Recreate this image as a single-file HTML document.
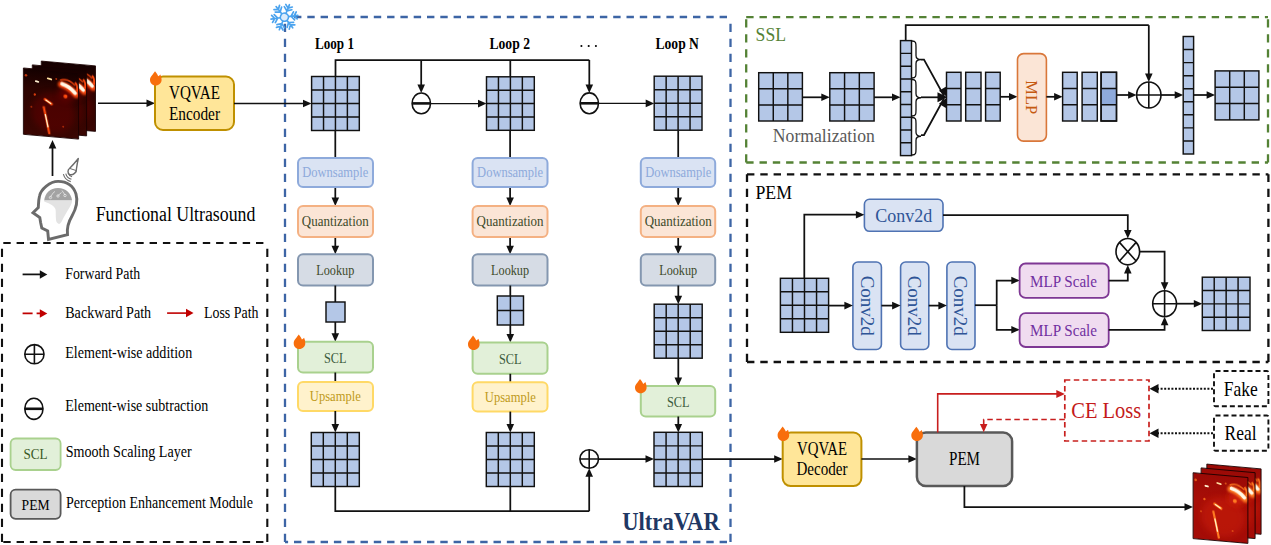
<!DOCTYPE html>
<html><head><meta charset="utf-8"><style>
html,body{margin:0;padding:0;background:#fff;width:1271px;height:545px;overflow:hidden}
svg{display:block}
text{font-family:"Liberation Serif",serif}
</style></head><body>
<svg width="1271" height="545" viewBox="0 0 1271 545">
<rect width="1271" height="545" fill="#fff"/>
<defs><filter id="blur1" x="-50%" y="-50%" width="200%" height="200%"><feGaussianBlur stdDeviation="1.2"/></filter><filter id="blur2" x="-50%" y="-50%" width="200%" height="200%"><feGaussianBlur stdDeviation="3"/></filter><filter id="blur05" x="-50%" y="-50%" width="200%" height="200%"><feGaussianBlur stdDeviation="0.5"/></filter><linearGradient id="dbg" x1="0" y1="0" x2="0" y2="1"><stop offset="0" stop-color="#140000"/><stop offset="0.3" stop-color="#2c0401"/><stop offset="1" stop-color="#3a0602"/></linearGradient><linearGradient id="rbg" x1="0" y1="0" x2="0" y2="1"><stop offset="0" stop-color="#9a0a06"/><stop offset="0.4" stop-color="#a80e07"/><stop offset="1" stop-color="#a40c07"/></linearGradient><clipPath id="lc"><rect x="0" y="0" width="55.5" height="66"/></clipPath></defs>
<g transform="matrix(0.9766,0.0865,0,0.9924,41.3,61.1)"><g clip-path="url(#lc)"><rect x="0" y="0" width="55.5" height="66" fill="url(#dbg)"/><ellipse cx="30" cy="42" rx="22" ry="20" fill="#6a0600" opacity="0.45" filter="url(#blur2)"/><ellipse cx="44" cy="22" rx="9" ry="7" fill="#6a0600" opacity="0.9" filter="url(#blur2)"/><path d="M37 9 Q45 6 52 13" stroke="#ff4a10" stroke-width="1.6" fill="none" opacity="0.8" filter="url(#blur05)"/><path d="M38 13 Q46 14.5 53 22" stroke="#ff4a10" stroke-width="6.5" fill="none" stroke-linecap="round" filter="url(#blur1)"/><path d="M39 12.5 Q46 14 52 20.5" stroke="#fff8e6" stroke-width="3.8" fill="none" stroke-linecap="round" filter="url(#blur05)"/><path d="M52 10 Q55 13 54 19" stroke="#ff4a10" stroke-width="2" fill="none" filter="url(#blur05)"/></g><rect x="0" y="0" width="55.5" height="66" fill="none" stroke="#1a0000" stroke-width="0.9"/></g>
<g transform="matrix(0.9784,0.0865,0,1.0030,32.3,64.9)"><g clip-path="url(#lc)"><rect x="0" y="0" width="55.5" height="66" fill="url(#dbg)"/><ellipse cx="30" cy="42" rx="22" ry="20" fill="#6a0600" opacity="0.45" filter="url(#blur2)"/><ellipse cx="44" cy="22" rx="9" ry="7" fill="#6a0600" opacity="0.9" filter="url(#blur2)"/><path d="M37 9 Q45 6 52 13" stroke="#ff4a10" stroke-width="1.6" fill="none" opacity="0.8" filter="url(#blur05)"/><path d="M38 13 Q46 14.5 53 22" stroke="#ff4a10" stroke-width="6.5" fill="none" stroke-linecap="round" filter="url(#blur1)"/><path d="M39 12.5 Q46 14 52 20.5" stroke="#fff8e6" stroke-width="3.8" fill="none" stroke-linecap="round" filter="url(#blur05)"/><path d="M52 10 Q55 13 54 19" stroke="#ff4a10" stroke-width="2" fill="none" filter="url(#blur05)"/></g><rect x="0" y="0" width="55.5" height="66" fill="none" stroke="#1a0000" stroke-width="0.9"/></g>
<g transform="matrix(0.9946,0.0865,0,1.0045,23.4,68.0)"><g clip-path="url(#lc)"><rect x="0" y="0" width="55.5" height="66" fill="url(#dbg)"/><ellipse cx="30" cy="42" rx="22" ry="20" fill="#6a0600" opacity="0.45" filter="url(#blur2)"/><ellipse cx="44" cy="22" rx="9" ry="7" fill="#6a0600" opacity="0.9" filter="url(#blur2)"/><path d="M37 9 Q45 6 52 13" stroke="#ff4a10" stroke-width="1.6" fill="none" opacity="0.8" filter="url(#blur05)"/><path d="M38 13 Q46 14.5 53 22" stroke="#ff4a10" stroke-width="6.5" fill="none" stroke-linecap="round" filter="url(#blur1)"/><path d="M39 12.5 Q46 14 52 20.5" stroke="#fff8e6" stroke-width="3.8" fill="none" stroke-linecap="round" filter="url(#blur05)"/><path d="M52 10 Q55 13 54 19" stroke="#ff4a10" stroke-width="2" fill="none" filter="url(#blur05)"/><circle cx="42.3" cy="24.7" r="2" fill="#ff4a10" filter="url(#blur05)"/><path d="M20.3 36.4 Q23.5 50 26.2 63.6" stroke="#ff4a10" stroke-width="2.2" fill="none" filter="url(#blur05)"/><path d="M22 44 Q23.5 51 24.8 57" stroke="#fff2c8" stroke-width="1.3" fill="none"/><path d="M21.7 29.3 L28.4 33.5" stroke="#ff4a10" stroke-width="2.6" fill="none" stroke-linecap="round" filter="url(#blur05)"/><path d="M22.5 30 L27.5 33" stroke="#fff0c0" stroke-width="1.2" fill="none" stroke-linecap="round"/><path d="M24.5 8.2 L28 9" stroke="#ffe0a0" stroke-width="1.8" fill="none" stroke-linecap="round"/><path d="M12.5 12 L15 12.5" stroke="#fff0d0" stroke-width="1.8" fill="none" stroke-linecap="round"/><circle cx="11.5" cy="25.4" r="1.2" fill="#ff4a10" opacity="0.8"/><circle cx="2.6" cy="7" r="1.3" fill="#ff4a10" opacity="0.7"/><circle cx="33" cy="8" r="1" fill="#ff4a10" opacity="0.6"/><circle cx="8" cy="38" r="1" fill="#ff4a10" opacity="0.5"/><circle cx="40" cy="55" r="1" fill="#ff4a10" opacity="0.5"/></g><rect x="0" y="0" width="55.5" height="66" fill="none" stroke="#1a0000" stroke-width="0.9"/></g>
<path d="M98 103.2 L147.5 103.2" fill="none" stroke="#111" stroke-width="1.35"/>
<polygon points="155,103.2 146.5,99.4 146.5,107.0" fill="#111"/>
<path d="M58 188 C50 188 45 193 44.2 200.6 L72.1 200.6 C71 193 66 188 58 188 Z" fill="#a3a3a3"/>
<path d="M44.2 200.6 L72.1 200.6 C72 203 71 205 69.5 207.6 C67 212 65 215 63.4 218 C62 221 60.5 224 59 224.1 C57 223.5 56 221.5 56 219.8 C55.5 215 56 212 55.5 209.3 C54 206 51 204 44.2 201.5 Z" fill="#e3e3e3"/>
<path d="M50 197.5 L53.5 192.5 L55 191.5 M57.5 196 L61.5 192.5 M62 190.5 L65 195" stroke="#e8e8e8" stroke-width="0.8" fill="none"/>
<circle cx="50.5" cy="197.5" r="1.2" fill="none" stroke="#eee" stroke-width="0.7"/><circle cx="58" cy="196" r="1.2" fill="none" stroke="#eee" stroke-width="0.7"/><circle cx="65" cy="195.5" r="1.2" fill="none" stroke="#eee" stroke-width="0.7"/>
<path d="M48.5 239.5 L47.7 231 L41.8 228 L40.6 222.5 L39.8 217.5 L33 212.8 L38.3 207.6 C38.6 203 38.5 200 39.5 196 C41 189 50 181.4 58.1 181.4 C66 181.4 73 185 76 194 C78 201 76 209 72 216 C69 221 66.5 226 67.5 234.6 Z" fill="none" stroke="#6b6b6b" stroke-width="2.9" stroke-linejoin="miter"/>
<path d="M72.08 176.81 A5.5 5.5 0 0 1 68.19 172.92 M71.43 179.23 A8 8 0 0 1 65.77 173.57 M70.78 181.64 A10.5 10.5 0 0 1 63.36 174.22 " stroke="#6b6b6b" stroke-width="1.1" fill="none"/>
<path d="M78.3 158.5 C77.5 162 77 165 76.5 168.5 C77 172.5 73 175.5 69.5 174.5 C67.5 173 67.5 170 69.5 168.5 C72.5 165.5 75.5 162 78.3 158.5 Z" fill="#fff" stroke="#6b6b6b" stroke-width="1.4" stroke-linejoin="round"/>
<path d="M70 168.5 L76 170.5" stroke="#6b6b6b" stroke-width="1"/>
<path d="M52.5 176 L52.5 147.5" fill="none" stroke="#111" stroke-width="1.75"/>
<polygon points="52.5,140 48.7,148.5 56.3,148.5" fill="#111"/>
<text x="95.7" y="221" font-size="20" fill="#000" text-anchor="start" font-weight="normal" textLength="159.7" lengthAdjust="spacingAndGlyphs" >Functional Ultrasound</text>
<rect x="155" y="76.5" width="79.00" height="53.50" rx="8" fill="#ffe699" stroke="#bf9000" stroke-width="2"/>
<text x="194.5" y="98.9" font-size="18.8" fill="#000" text-anchor="middle" font-weight="normal" textLength="51" lengthAdjust="spacingAndGlyphs" >VQVAE</text>
<text x="194.5" y="119.5" font-size="18.8" fill="#000" text-anchor="middle" font-weight="normal" textLength="51" lengthAdjust="spacingAndGlyphs" >Encoder</text>
<path transform="translate(155.6,85.6) scale(1.0)" d="M0 0 C-3.4 0 -5.6 -2.6 -5.6 -5.8 C-5.6 -9 -2.2 -11.5 -0.6 -14.4 C0.8 -12.6 2 -11 2.6 -9.4 C3.4 -9.8 4.2 -10.6 4.8 -11.2 C5.6 -9.5 6 -7.6 6 -5.8 C6 -2.6 3.4 0 0 0 Z" fill="#f86e0c"/>
<path d="M285 17H730.5M285 542H730.5" fill="none" stroke="#3d65a5" stroke-width="2.3" stroke-dasharray="7.4 5.9" stroke-dashoffset="4.3"/>
<path d="M285 542V17M730.5 542V17" fill="none" stroke="#3d65a5" stroke-width="2.3" stroke-dasharray="8.3 6.7" stroke-dashoffset="0"/>
<path d="M234 103.5 L304.0 103.5" fill="none" stroke="#111" stroke-width="1.35"/>
<polygon points="311.5,103.5 303.0,99.7 303.0,107.3" fill="#111"/>
<path d="M335.5 76.5 L335.5 60 L589.3 60" fill="none" stroke="#111" stroke-width="1.75"/>
<path d="M510.3 60 L510.3 77" fill="none" stroke="#111" stroke-width="1.75"/>
<path d="M421.2 60 L421.2 85.5" fill="none" stroke="#111" stroke-width="1.75"/>
<polygon points="421.2,93 417.4,84.5 425.0,84.5" fill="#111"/>
<path d="M589.3 60 L589.3 85.5" fill="none" stroke="#111" stroke-width="1.75"/>
<polygon points="589.3,93 585.5,84.5 593.0999999999999,84.5" fill="#111"/>
<ellipse cx="421.3" cy="103.4" rx="9.2" ry="10.4" fill="#fff" stroke="#111" stroke-width="1.6"/>
<path d="M412.1 103.4H430.5" stroke="#111" stroke-width="2.6"/>
<ellipse cx="589.3" cy="103.3" rx="9.2" ry="10.4" fill="#fff" stroke="#111" stroke-width="1.6"/>
<path d="M580.0999999999999 103.3H598.5" stroke="#111" stroke-width="2.6"/>
<path d="M430.2 103.6 L479.0 103.6" fill="none" stroke="#111" stroke-width="1.35"/>
<polygon points="486.5,103.6 478.0,99.8 478.0,107.39999999999999" fill="#111"/>
<path d="M598.3 103.4 L646.7 103.4" fill="none" stroke="#111" stroke-width="1.35"/>
<polygon points="654.2,103.4 645.7,99.60000000000001 645.7,107.2" fill="#111"/>
<text x="334.5" y="48.5" font-size="15.8" fill="#000" text-anchor="middle" font-weight="bold" textLength="39" lengthAdjust="spacingAndGlyphs" >Loop 1</text>
<text x="509.7" y="48.6" font-size="15.8" fill="#000" text-anchor="middle" font-weight="bold" textLength="40.5" lengthAdjust="spacingAndGlyphs" >Loop 2</text>
<text x="677.2" y="48.6" font-size="15.8" fill="#000" text-anchor="middle" font-weight="bold" textLength="43.5" lengthAdjust="spacingAndGlyphs" >Loop N</text>
<circle cx="581.4" cy="46" r="1.05" fill="#000"/><circle cx="588.7" cy="46" r="1.05" fill="#000"/><circle cx="595.9" cy="46" r="1.05" fill="#000"/>
<path d="M335.3 130.5 L335.3 158" fill="none" stroke="#111" stroke-width="1.75"/>
<path d="M335.3 187 L335.3 198.5" fill="none" stroke="#111" stroke-width="1.75"/>
<polygon points="335.3,206 331.5,197.5 339.1,197.5" fill="#111"/>
<path d="M335.3 237 L335.3 246.8" fill="none" stroke="#111" stroke-width="1.75"/>
<polygon points="335.3,254.3 331.5,245.8 339.1,245.8" fill="#111"/>
<rect x="298" y="158" width="75.00" height="29.00" rx="5" fill="#dae3f3" stroke="#8eaadb" stroke-width="2"/>
<text x="335.3" y="176.9" font-size="14.3" fill="#8eaadb" text-anchor="middle" font-weight="normal" textLength="66" lengthAdjust="spacingAndGlyphs" >Downsample</text>
<rect x="298" y="206" width="75.00" height="31.00" rx="5" fill="#fbe5d6" stroke="#f4b183" stroke-width="2"/>
<text x="335.3" y="226" font-size="14.3" fill="#3d4a2a" text-anchor="middle" font-weight="normal" textLength="67" lengthAdjust="spacingAndGlyphs" >Quantization</text>
<rect x="298" y="254.3" width="75.00" height="31.20" rx="5" fill="#d6dce5" stroke="#8497b0" stroke-width="2"/>
<text x="335.3" y="275" font-size="14.3" fill="#3d4a2a" text-anchor="middle" font-weight="normal" textLength="38" lengthAdjust="spacingAndGlyphs" >Lookup</text>
<path d="M510.1 130.5 L510.1 158" fill="none" stroke="#111" stroke-width="1.75"/>
<path d="M510.1 187 L510.1 198.5" fill="none" stroke="#111" stroke-width="1.75"/>
<polygon points="510.1,206 506.3,197.5 513.9,197.5" fill="#111"/>
<path d="M510.1 237 L510.1 246.8" fill="none" stroke="#111" stroke-width="1.75"/>
<polygon points="510.1,254.3 506.3,245.8 513.9,245.8" fill="#111"/>
<rect x="472.6" y="158" width="74.90" height="29.00" rx="5" fill="#dae3f3" stroke="#8eaadb" stroke-width="2"/>
<text x="510.1" y="176.9" font-size="14.3" fill="#8eaadb" text-anchor="middle" font-weight="normal" textLength="66" lengthAdjust="spacingAndGlyphs" >Downsample</text>
<rect x="472.6" y="206" width="74.90" height="31.00" rx="5" fill="#fbe5d6" stroke="#f4b183" stroke-width="2"/>
<text x="510.1" y="226" font-size="14.3" fill="#3d4a2a" text-anchor="middle" font-weight="normal" textLength="67" lengthAdjust="spacingAndGlyphs" >Quantization</text>
<rect x="472.6" y="254.3" width="74.90" height="31.20" rx="5" fill="#d6dce5" stroke="#8497b0" stroke-width="2"/>
<text x="510.1" y="275" font-size="14.3" fill="#3d4a2a" text-anchor="middle" font-weight="normal" textLength="38" lengthAdjust="spacingAndGlyphs" >Lookup</text>
<path d="M678.2 130.5 L678.2 158" fill="none" stroke="#111" stroke-width="1.75"/>
<path d="M678.2 187 L678.2 198.5" fill="none" stroke="#111" stroke-width="1.75"/>
<polygon points="678.2,206 674.4000000000001,197.5 682.0,197.5" fill="#111"/>
<path d="M678.2 237 L678.2 246.8" fill="none" stroke="#111" stroke-width="1.75"/>
<polygon points="678.2,254.3 674.4000000000001,245.8 682.0,245.8" fill="#111"/>
<rect x="640.8" y="158" width="74.40" height="29.00" rx="5" fill="#dae3f3" stroke="#8eaadb" stroke-width="2"/>
<text x="678.2" y="176.9" font-size="14.3" fill="#8eaadb" text-anchor="middle" font-weight="normal" textLength="66" lengthAdjust="spacingAndGlyphs" >Downsample</text>
<rect x="640.8" y="206" width="74.40" height="31.00" rx="5" fill="#fbe5d6" stroke="#f4b183" stroke-width="2"/>
<text x="678.2" y="226" font-size="14.3" fill="#3d4a2a" text-anchor="middle" font-weight="normal" textLength="67" lengthAdjust="spacingAndGlyphs" >Quantization</text>
<rect x="640.8" y="254.3" width="74.40" height="31.20" rx="5" fill="#d6dce5" stroke="#8497b0" stroke-width="2"/>
<text x="678.2" y="275" font-size="14.3" fill="#3d4a2a" text-anchor="middle" font-weight="normal" textLength="38" lengthAdjust="spacingAndGlyphs" >Lookup</text>
<path d="M335.3 285.5 L335.3 302" fill="none" stroke="#111" stroke-width="1.75"/>
<rect x="326" y="302" width="19" height="20" fill="#b4c7e7" stroke="#111" stroke-width="1.45"/>
<path d="M335.3 322 L335.3 334.2" fill="none" stroke="#111" stroke-width="1.75"/>
<polygon points="335.3,341.7 331.5,333.2 339.1,333.2" fill="#111"/>
<rect x="298" y="341.7" width="75.00" height="30.80" rx="5" fill="#e2f0d9" stroke="#a9d18e" stroke-width="2"/>
<text x="335.3" y="363" font-size="14.3" fill="#3a5a3a" text-anchor="middle" font-weight="normal" textLength="22.5" lengthAdjust="spacingAndGlyphs" >SCL</text>
<path transform="translate(299.3,349) scale(1.0)" d="M0 0 C-3.4 0 -5.6 -2.6 -5.6 -5.8 C-5.6 -9 -2.2 -11.5 -0.6 -14.4 C0.8 -12.6 2 -11 2.6 -9.4 C3.4 -9.8 4.2 -10.6 4.8 -11.2 C5.6 -9.5 6 -7.6 6 -5.8 C6 -2.6 3.4 0 0 0 Z" fill="#f86e0c"/>
<path d="M335.3 372.5 L335.3 382" fill="none" stroke="#111" stroke-width="1.75"/>
<rect x="298" y="382" width="75.00" height="29.00" rx="5" fill="#fff2cc" stroke="#ffd966" stroke-width="2"/>
<text x="335.3" y="401" font-size="14.3" fill="#c09a20" text-anchor="middle" font-weight="normal" textLength="51" lengthAdjust="spacingAndGlyphs" >Upsample</text>
<path d="M335.3 411 L335.3 425.0" fill="none" stroke="#111" stroke-width="1.75"/>
<polygon points="335.3,432.5 331.5,424.0 339.1,424.0" fill="#111"/>
<path d="M510.3 285.5 L510.3 296" fill="none" stroke="#111" stroke-width="1.75"/>
<rect x="497.3" y="296" width="26.2" height="29" fill="#b4c7e7" stroke="#111" stroke-width="1.45"/><path d="M510.40 296V325M497.3 310.50H523.5" stroke="#111" stroke-width="1.45" fill="none"/>
<path d="M510.3 325 L510.3 335.0" fill="none" stroke="#111" stroke-width="1.75"/>
<polygon points="510.3,342.5 506.5,334.0 514.1,334.0" fill="#111"/>
<rect x="472.6" y="342.5" width="74.90" height="31.30" rx="5" fill="#e2f0d9" stroke="#a9d18e" stroke-width="2"/>
<text x="510.3" y="364" font-size="14.3" fill="#3a5a3a" text-anchor="middle" font-weight="normal" textLength="22.5" lengthAdjust="spacingAndGlyphs" >SCL</text>
<path transform="translate(473.6,350) scale(1.0)" d="M0 0 C-3.4 0 -5.6 -2.6 -5.6 -5.8 C-5.6 -9 -2.2 -11.5 -0.6 -14.4 C0.8 -12.6 2 -11 2.6 -9.4 C3.4 -9.8 4.2 -10.6 4.8 -11.2 C5.6 -9.5 6 -7.6 6 -5.8 C6 -2.6 3.4 0 0 0 Z" fill="#f86e0c"/>
<path d="M510.3 373.8 L510.3 382.3" fill="none" stroke="#111" stroke-width="1.75"/>
<rect x="472.6" y="382.3" width="74.90" height="29.30" rx="5" fill="#fff2cc" stroke="#ffd966" stroke-width="2"/>
<text x="510.3" y="401.5" font-size="14.3" fill="#c09a20" text-anchor="middle" font-weight="normal" textLength="51" lengthAdjust="spacingAndGlyphs" >Upsample</text>
<path d="M510.3 411.6 L510.3 425.0" fill="none" stroke="#111" stroke-width="1.75"/>
<polygon points="510.3,432.5 506.5,424.0 514.1,424.0" fill="#111"/>
<path d="M678.3 285.5 L678.3 296.7" fill="none" stroke="#111" stroke-width="1.75"/>
<polygon points="678.3,304.2 674.5,295.7 682.0999999999999,295.7" fill="#111"/>
<rect x="654.2" y="304.2" width="48" height="54" fill="#b4c7e7" stroke="#111" stroke-width="1.45"/><path d="M666.20 304.2V358.2M678.20 304.2V358.2M690.20 304.2V358.2M654.2 317.70H702.2M654.2 331.20H702.2M654.2 344.70H702.2" stroke="#111" stroke-width="1.45" fill="none"/>
<path d="M678.3 358.2 L678.3 378.5" fill="none" stroke="#111" stroke-width="1.75"/>
<polygon points="678.3,386 674.5,377.5 682.0999999999999,377.5" fill="#111"/>
<rect x="640.8" y="386" width="74.40" height="30.50" rx="5" fill="#e2f0d9" stroke="#a9d18e" stroke-width="2"/>
<text x="678.3" y="407" font-size="14.3" fill="#3a5a3a" text-anchor="middle" font-weight="normal" textLength="22.5" lengthAdjust="spacingAndGlyphs" >SCL</text>
<path transform="translate(640.6,393.3) scale(1.0)" d="M0 0 C-3.4 0 -5.6 -2.6 -5.6 -5.8 C-5.6 -9 -2.2 -11.5 -0.6 -14.4 C0.8 -12.6 2 -11 2.6 -9.4 C3.4 -9.8 4.2 -10.6 4.8 -11.2 C5.6 -9.5 6 -7.6 6 -5.8 C6 -2.6 3.4 0 0 0 Z" fill="#f86e0c"/>
<path d="M678.3 416.5 L678.3 425.0" fill="none" stroke="#111" stroke-width="1.75"/>
<polygon points="678.3,432.5 674.5,424.0 682.0999999999999,424.0" fill="#111"/>
<path d="M335.3 486.5 L335.3 511.2 L589.2 511.2" fill="none" stroke="#111" stroke-width="1.75"/>
<path d="M510.3 486.5 L510.3 511.2" fill="none" stroke="#111" stroke-width="1.75"/>
<path d="M589.2 511.2 L589.2 475.8" fill="none" stroke="#111" stroke-width="1.75"/>
<polygon points="589.2,468.3 585.4000000000001,476.8 593.0,476.8" fill="#111"/>
<ellipse cx="589.2" cy="459" rx="9.3" ry="9.3" fill="#fff" stroke="#111" stroke-width="1.6"/>
<path d="M579.9000000000001 459H598.5M589.2 449.7V468.3" stroke="#111" stroke-width="1.6"/>
<path d="M598.5 459 L646.5 459" fill="none" stroke="#111" stroke-width="1.75"/>
<polygon points="654,459 645.5,455.2 645.5,462.8" fill="#111"/>
<path d="M702.3 459 L775.2 459" fill="none" stroke="#111" stroke-width="1.75"/>
<polygon points="782.7,459 774.2,455.2 774.2,462.8" fill="#111"/>
<rect x="311.6" y="76.5" width="47.7" height="54" fill="#b4c7e7" stroke="#111" stroke-width="1.45"/><path d="M323.53 76.5V130.5M335.45 76.5V130.5M347.38 76.5V130.5M311.6 90.00H359.3M311.6 103.50H359.3M311.6 117.00H359.3" stroke="#111" stroke-width="1.45" fill="none"/>
<rect x="486.5" y="76.8" width="47.8" height="53.5" fill="#b4c7e7" stroke="#111" stroke-width="1.45"/><path d="M498.45 76.8V130.3M510.40 76.8V130.3M522.35 76.8V130.3M486.5 90.17H534.3M486.5 103.55H534.3M486.5 116.92H534.3" stroke="#111" stroke-width="1.45" fill="none"/>
<rect x="654.2" y="76.2" width="47.8" height="54" fill="#b4c7e7" stroke="#111" stroke-width="1.45"/><path d="M666.15 76.2V130.2M678.10 76.2V130.2M690.05 76.2V130.2M654.2 89.70H702.0M654.2 103.20H702.0M654.2 116.70H702.0" stroke="#111" stroke-width="1.45" fill="none"/>
<rect x="311.3" y="432.5" width="48" height="54" fill="#b4c7e7" stroke="#111" stroke-width="1.45"/><path d="M323.30 432.5V486.5M335.30 432.5V486.5M347.30 432.5V486.5M311.3 446.00H359.3M311.3 459.50H359.3M311.3 473.00H359.3" stroke="#111" stroke-width="1.45" fill="none"/>
<rect x="486.3" y="432.5" width="48" height="54" fill="#b4c7e7" stroke="#111" stroke-width="1.45"/><path d="M498.30 432.5V486.5M510.30 432.5V486.5M522.30 432.5V486.5M486.3 446.00H534.3M486.3 459.50H534.3M486.3 473.00H534.3" stroke="#111" stroke-width="1.45" fill="none"/>
<rect x="654" y="432.3" width="48.3" height="54.2" fill="#b4c7e7" stroke="#111" stroke-width="1.45"/><path d="M666.08 432.3V486.5M678.15 432.3V486.5M690.23 432.3V486.5M654 445.85H702.3M654 459.40H702.3M654 472.95H702.3" stroke="#111" stroke-width="1.45" fill="none"/>
<g transform="translate(284.4,17.2) rotate(22)" stroke="#4ba3ee" stroke-width="1.7" stroke-linecap="round" fill="none"><g transform="rotate(0)"><path d="M0 -4.05V-13.5M0 -9.719999999999999L-3.5100000000000002 -12.42M0 -9.719999999999999L3.5100000000000002 -12.42M0 -6.75L-4.05 -9.719999999999999M0 -6.75L4.05 -9.719999999999999"/></g><g transform="rotate(60)"><path d="M0 -4.05V-13.5M0 -9.719999999999999L-3.5100000000000002 -12.42M0 -9.719999999999999L3.5100000000000002 -12.42M0 -6.75L-4.05 -9.719999999999999M0 -6.75L4.05 -9.719999999999999"/></g><g transform="rotate(120)"><path d="M0 -4.05V-13.5M0 -9.719999999999999L-3.5100000000000002 -12.42M0 -9.719999999999999L3.5100000000000002 -12.42M0 -6.75L-4.05 -9.719999999999999M0 -6.75L4.05 -9.719999999999999"/></g><g transform="rotate(180)"><path d="M0 -4.05V-13.5M0 -9.719999999999999L-3.5100000000000002 -12.42M0 -9.719999999999999L3.5100000000000002 -12.42M0 -6.75L-4.05 -9.719999999999999M0 -6.75L4.05 -9.719999999999999"/></g><g transform="rotate(240)"><path d="M0 -4.05V-13.5M0 -9.719999999999999L-3.5100000000000002 -12.42M0 -9.719999999999999L3.5100000000000002 -12.42M0 -6.75L-4.05 -9.719999999999999M0 -6.75L4.05 -9.719999999999999"/></g><g transform="rotate(300)"><path d="M0 -4.05V-13.5M0 -9.719999999999999L-3.5100000000000002 -12.42M0 -9.719999999999999L3.5100000000000002 -12.42M0 -6.75L-4.05 -9.719999999999999M0 -6.75L4.05 -9.719999999999999"/></g><circle r="4.05" stroke-width="1.6" fill="#dcecfb"/></g>
<text x="671" y="530" font-size="26" fill="#1f3864" text-anchor="middle" font-weight="bold" textLength="97.6" lengthAdjust="spacingAndGlyphs" >UltraVAR</text>
<path d="M746.2 17.2H1268M746.2 162.5H1268" fill="none" stroke="#548235" stroke-width="2.3" stroke-dasharray="7.4 5.9" stroke-dashoffset="0"/>
<path d="M746.2 162.5V17.2M1268 162.5V17.2" fill="none" stroke="#548235" stroke-width="2.3" stroke-dasharray="8.3 6.7" stroke-dashoffset="0"/>
<text x="755.6" y="40.5" font-size="19.5" fill="#548235" text-anchor="start" font-weight="normal" textLength="30.4" lengthAdjust="spacingAndGlyphs" >SSL</text>
<rect x="758.7" y="72.7" width="43.7" height="48.3" fill="#b4c7e7" stroke="#111" stroke-width="1.45"/><path d="M773.27 72.7V121.0M787.83 72.7V121.0M758.7 88.80H802.4000000000001M758.7 104.90H802.4000000000001" stroke="#111" stroke-width="1.45" fill="none"/>
<rect x="829.8" y="72.7" width="44.3" height="48.3" fill="#b4c7e7" stroke="#111" stroke-width="1.45"/><path d="M844.57 72.7V121.0M859.33 72.7V121.0M829.8 88.80H874.0999999999999M829.8 104.90H874.0999999999999" stroke="#111" stroke-width="1.45" fill="none"/>
<path d="M802.4 97.3 L822.3 97.3" fill="none" stroke="#111" stroke-width="1.75"/>
<polygon points="829.8,97.3 821.3,93.5 821.3,101.1" fill="#111"/>
<path d="M874.1 97.3 L893.0 97.3" fill="none" stroke="#111" stroke-width="1.75"/>
<polygon points="900.5,97.3 892.0,93.5 892.0,101.1" fill="#111"/>
<text x="772.8" y="142" font-size="19" fill="#595959" text-anchor="start" font-weight="normal" textLength="102" lengthAdjust="spacingAndGlyphs" >Normalization</text>
<rect x="900.5" y="40.6" width="11" height="115" fill="#b4c7e7" stroke="#111" stroke-width="1.45"/><path d="M900.5 53.38H911.5M900.5 66.16H911.5M900.5 78.93H911.5M900.5 91.71H911.5M900.5 104.49H911.5M900.5 117.27H911.5M900.5 130.04H911.5M900.5 142.82H911.5" stroke="#111" stroke-width="1.45" fill="none"/>
<path d="M912 41 C916 41 916 43 916 47 V55.5 C916 58.5 918 59.5 921 59.5 C918 59.5 916 60.5 916 63.5 V72 C916 76 916 78 912 78" fill="none" stroke="#111" stroke-width="1.3"/>
<path d="M912 79.5 C916 79.5 916 81.5 916 85.5 V93.75 C916 96.75 918 97.75 921 97.75 C918 97.75 916 98.75 916 101.75 V110 C916 114 916 116 912 116" fill="none" stroke="#111" stroke-width="1.3"/>
<path d="M912 117.5 C916 117.5 916 119.5 916 123.5 V132.25 C916 135.25 918 136.25 921 136.25 C918 136.25 916 137.25 916 140.25 V149 C916 153 916 155 912 155" fill="none" stroke="#111" stroke-width="1.3"/>
<path d="M921 59.5 L924 59.5 L944 96" fill="none" stroke="#111" stroke-width="1.75"/>
<path d="M921 97.3 L940 97.3" fill="none" stroke="#111" stroke-width="1.75"/>
<path d="M921 135 L924 135 L944 98.5" fill="none" stroke="#111" stroke-width="1.75"/>
<polygon points="947.50,97.30 938.95,90.75 945.82,86.66" fill="#111"/>
<polygon points="947.50,97.30 945.81,107.94 938.94,103.84" fill="#111"/>
<polygon points="947.5,97.3 937.5,92.3 937.5,102.3" fill="#111"/>
<rect x="946.5" y="72.3" width="14.5" height="48.7" fill="#b4c7e7" stroke="#111" stroke-width="1.45"/><path d="M946.5 88.53H961.0M946.5 104.77H961.0" stroke="#111" stroke-width="1.45" fill="none"/>
<rect x="965.7" y="72.3" width="15.299999999999955" height="48.7" fill="#b4c7e7" stroke="#111" stroke-width="1.45"/><path d="M965.7 88.53H981.0M965.7 104.77H981.0" stroke="#111" stroke-width="1.45" fill="none"/>
<rect x="985.6" y="72.3" width="14.600000000000023" height="48.7" fill="#b4c7e7" stroke="#111" stroke-width="1.45"/><path d="M985.6 88.53H1000.2M985.6 104.77H1000.2" stroke="#111" stroke-width="1.45" fill="none"/>
<path d="M1000.2 96.8 L1010.0 96.8" fill="none" stroke="#111" stroke-width="1.75"/>
<polygon points="1017.5,96.8 1009.0,93.0 1009.0,100.6" fill="#111"/>
<rect x="1017.5" y="53.6" width="28.90" height="87.50" rx="6" fill="#fbe5d6" stroke="#d9773a" stroke-width="1.6"/>
<text x="0" y="0" font-size="17" fill="#c55a11" text-anchor="middle" textLength="34" lengthAdjust="spacingAndGlyphs" transform="translate(1025.8,97.3) rotate(90)">MLP</text>
<path d="M1046.4 96.8 L1055.1 96.8" fill="none" stroke="#111" stroke-width="1.75"/>
<polygon points="1062.6,96.8 1054.1,93.0 1054.1,100.6" fill="#111"/>
<rect x="1062.6" y="72.3" width="14.600000000000136" height="48.7" fill="#b4c7e7" stroke="#111" stroke-width="1.45"/><path d="M1062.6 88.53H1077.2M1062.6 104.77H1077.2" stroke="#111" stroke-width="1.45" fill="none"/>
<rect x="1082.1" y="72.3" width="15.200000000000045" height="48.7" fill="#b4c7e7" stroke="#111" stroke-width="1.45"/><path d="M1082.1 88.53H1097.3M1082.1 104.77H1097.3" stroke="#111" stroke-width="1.45" fill="none"/>
<rect x="1101.1" y="72.3" width="15.400000000000091" height="48.7" fill="#b4c7e7" stroke="#111" stroke-width="1.45"/><rect x="1101.10" y="88.53" width="15.40" height="16.23" fill="#8eaadb"/><path d="M1101.1 88.53H1116.5M1101.1 104.77H1116.5" stroke="#111" stroke-width="1.45" fill="none"/><rect x="1101.1" y="72.3" width="15.400000000000091" height="48.7" fill="none" stroke="#111" stroke-width="1.45"/>
<path d="M1116.5 95 L1129.1 95" fill="none" stroke="#111" stroke-width="1.75"/>
<polygon points="1136.6,95 1128.1,91.2 1128.1,98.8" fill="#111"/>
<path d="M905.7 40.6 L905.7 25.2 L1148.8 25.2" fill="none" stroke="#111" stroke-width="1.75"/>
<path d="M1148.8 25.2 L1148.8 74.5" fill="none" stroke="#111" stroke-width="1.75"/>
<polygon points="1148.8,82 1145.0,73.5 1152.6,73.5" fill="#111"/>
<ellipse cx="1148.8" cy="95" rx="12.2" ry="13" fill="#fff" stroke="#111" stroke-width="1.6"/>
<path d="M1136.6 95H1161.0M1148.8 82V108" stroke="#111" stroke-width="1.6"/>
<path d="M1161 95 L1175.7 95" fill="none" stroke="#111" stroke-width="1.75"/>
<polygon points="1183.2,95 1174.7,91.2 1174.7,98.8" fill="#111"/>
<rect x="1183.2" y="36.5" width="10.4" height="117.5" fill="#b4c7e7" stroke="#111" stroke-width="1.45"/><path d="M1183.2 49.56H1193.6000000000001M1183.2 62.61H1193.6000000000001M1183.2 75.67H1193.6000000000001M1183.2 88.72H1193.6000000000001M1183.2 101.78H1193.6000000000001M1183.2 114.83H1193.6000000000001M1183.2 127.89H1193.6000000000001M1183.2 140.94H1193.6000000000001" stroke="#111" stroke-width="1.45" fill="none"/>
<path d="M1193.6 95 L1207.6 95" fill="none" stroke="#111" stroke-width="1.75"/>
<polygon points="1215.1,95 1206.6,91.2 1206.6,98.8" fill="#111"/>
<rect x="1215.1" y="70.9" width="43.8" height="49" fill="#b4c7e7" stroke="#111" stroke-width="1.45"/><path d="M1229.70 70.9V119.9M1244.30 70.9V119.9M1215.1 87.23H1258.8999999999999M1215.1 103.57H1258.8999999999999" stroke="#111" stroke-width="1.45" fill="none"/>
<path d="M747 174.3H1268.4M747 362H1268.4" fill="none" stroke="#111" stroke-width="2.3" stroke-dasharray="7.4 5.9" stroke-dashoffset="0"/>
<path d="M747 362V174.3M1268.4 362V174.3" fill="none" stroke="#111" stroke-width="2.3" stroke-dasharray="8.3 6.7" stroke-dashoffset="0"/>
<text x="755.4" y="198.5" font-size="18.7" fill="#000" text-anchor="start" font-weight="normal" textLength="36.6" lengthAdjust="spacingAndGlyphs" >PEM</text>
<rect x="864.4" y="199.3" width="78.60" height="32.00" rx="5" fill="#dae3f3" stroke="#4f73b3" stroke-width="1.6"/>
<text x="903.7" y="222" font-size="19" fill="#2f5597" text-anchor="middle" font-weight="normal" textLength="57" lengthAdjust="spacingAndGlyphs" >Conv2d</text>
<rect x="780.4" y="278.3" width="48.2" height="54" fill="#b4c7e7" stroke="#111" stroke-width="1.45"/><path d="M792.45 278.3V332.3M804.50 278.3V332.3M816.55 278.3V332.3M780.4 291.80H828.6M780.4 305.30H828.6M780.4 318.80H828.6" stroke="#111" stroke-width="1.45" fill="none"/>
<path d="M804.3 278.3 L804.3 214.7 L856.9 214.7" fill="none" stroke="#111" stroke-width="1.75"/>
<polygon points="864.4,214.7 855.9,210.89999999999998 855.9,218.5" fill="#111"/>
<rect x="852.9" y="262" width="28.50" height="87.50" rx="5" fill="#dae3f3" stroke="#4f73b3" stroke-width="1.6"/>
<text x="0" y="0" font-size="19" fill="#2f5597" text-anchor="middle" textLength="60" lengthAdjust="spacingAndGlyphs" transform="translate(860.65,305.7) rotate(90)">Conv2d</text>
<rect x="900.6" y="262" width="28.20" height="87.50" rx="5" fill="#dae3f3" stroke="#4f73b3" stroke-width="1.6"/>
<text x="0" y="0" font-size="19" fill="#2f5597" text-anchor="middle" textLength="60" lengthAdjust="spacingAndGlyphs" transform="translate(908.20,305.7) rotate(90)">Conv2d</text>
<rect x="946.9" y="262" width="28.10" height="87.50" rx="5" fill="#dae3f3" stroke="#4f73b3" stroke-width="1.6"/>
<text x="0" y="0" font-size="19" fill="#2f5597" text-anchor="middle" textLength="60" lengthAdjust="spacingAndGlyphs" transform="translate(954.45,305.7) rotate(90)">Conv2d</text>
<path d="M828.6 305.6 L845.4 305.6" fill="none" stroke="#111" stroke-width="1.75"/>
<polygon points="852.9,305.6 844.4,301.8 844.4,309.40000000000003" fill="#111"/>
<path d="M881.4 305.6 L893.1 305.6" fill="none" stroke="#111" stroke-width="1.75"/>
<polygon points="900.6,305.6 892.1,301.8 892.1,309.40000000000003" fill="#111"/>
<path d="M928.8 305.6 L939.4 305.6" fill="none" stroke="#111" stroke-width="1.75"/>
<polygon points="946.9,305.6 938.4,301.8 938.4,309.40000000000003" fill="#111"/>
<path d="M975 305.2 L996.7 305.2" fill="none" stroke="#111" stroke-width="1.75"/>
<path d="M996.7 305.2 L996.7 280.5 L1012.3 280.5" fill="none" stroke="#111" stroke-width="1.75"/>
<polygon points="1019.8,280.5 1011.3,276.7 1011.3,284.3" fill="#111"/>
<path d="M996.7 305.2 L996.7 329.8 L1012.3 329.8" fill="none" stroke="#111" stroke-width="1.75"/>
<polygon points="1019.8,329.8 1011.3,326.0 1011.3,333.6" fill="#111"/>
<rect x="1019.6" y="263.5" width="89.10" height="34.40" rx="6" fill="#f0dcf0" stroke="#7e3794" stroke-width="1.8"/>
<rect x="1019.6" y="313.2" width="89.10" height="33.80" rx="6" fill="#f0dcf0" stroke="#7e3794" stroke-width="1.8"/>
<text x="1063.5" y="286.6" font-size="17" fill="#7030a0" text-anchor="middle" font-weight="normal" textLength="67" lengthAdjust="spacingAndGlyphs" >MLP Scale</text>
<text x="1063.5" y="336.3" font-size="17" fill="#7030a0" text-anchor="middle" font-weight="normal" textLength="67" lengthAdjust="spacingAndGlyphs" >MLP Scale</text>
<path d="M943 215.2 L1127.8 215.2 L1127.8 231.0" fill="none" stroke="#111" stroke-width="1.75"/>
<polygon points="1127.8,238.5 1124.0,230.0 1131.6,230.0" fill="#111"/>
<path d="M1108.7 280.5 L1127.8 280.5 L1127.8 272.4" fill="none" stroke="#111" stroke-width="1.75"/>
<polygon points="1127.8,264.9 1124.0,273.4 1131.6,273.4" fill="#111"/>
<ellipse cx="1127.8" cy="251.7" rx="11.8" ry="13.2" fill="#fff" stroke="#111" stroke-width="1.6"/>
<path d="M1119.46 242.37L1136.14 261.03M1136.14 242.37L1119.46 261.03" stroke="#111" stroke-width="1.6"/>
<path d="M1139.6 251.7 L1164.6 251.7 L1164.6 283.2" fill="none" stroke="#111" stroke-width="1.75"/>
<polygon points="1164.6,290.7 1160.8,282.2 1168.3999999999999,282.2" fill="#111"/>
<path d="M1108.7 329.8 L1164.6 329.8 L1164.6 324.2" fill="none" stroke="#111" stroke-width="1.75"/>
<polygon points="1164.6,316.7 1160.8,325.2 1168.3999999999999,325.2" fill="#111"/>
<ellipse cx="1164.6" cy="303.7" rx="11.9" ry="13" fill="#fff" stroke="#111" stroke-width="1.6"/>
<path d="M1152.6999999999998 303.7H1176.5M1164.6 290.7V316.7" stroke="#111" stroke-width="1.6"/>
<path d="M1176.5 303.7 L1194.8 303.7" fill="none" stroke="#111" stroke-width="1.75"/>
<polygon points="1202.3,303.7 1193.8,299.9 1193.8,307.5" fill="#111"/>
<rect x="1202.3" y="277.2" width="47.7" height="53.3" fill="#b4c7e7" stroke="#111" stroke-width="1.45"/><path d="M1214.22 277.2V330.5M1226.15 277.2V330.5M1238.08 277.2V330.5M1202.3 290.52H1250.0M1202.3 303.85H1250.0M1202.3 317.17H1250.0" stroke="#111" stroke-width="1.45" fill="none"/>
<rect x="782.7" y="432.5" width="78.70" height="53.60" rx="8" fill="#ffe699" stroke="#bf9000" stroke-width="2"/>
<text x="822" y="454.7" font-size="18.8" fill="#000" text-anchor="middle" font-weight="normal" textLength="50" lengthAdjust="spacingAndGlyphs" >VQVAE</text>
<text x="822" y="475" font-size="18.8" fill="#000" text-anchor="middle" font-weight="normal" textLength="51" lengthAdjust="spacingAndGlyphs" >Decoder</text>
<path transform="translate(783.2,441) scale(1.0)" d="M0 0 C-3.4 0 -5.6 -2.6 -5.6 -5.8 C-5.6 -9 -2.2 -11.5 -0.6 -14.4 C0.8 -12.6 2 -11 2.6 -9.4 C3.4 -9.8 4.2 -10.6 4.8 -11.2 C5.6 -9.5 6 -7.6 6 -5.8 C6 -2.6 3.4 0 0 0 Z" fill="#f86e0c"/>
<path d="M861.4 459 L909.4 459" fill="none" stroke="#111" stroke-width="1.4"/>
<polygon points="916.9,459 908.4,455.2 908.4,462.8" fill="#111"/>
<rect x="916.9" y="432.5" width="95.20" height="53.60" rx="9" fill="#d9d9d9" stroke="#595959" stroke-width="2.5"/>
<text x="964.5" y="465.3" font-size="19" fill="#000" text-anchor="middle" font-weight="normal" textLength="31" lengthAdjust="spacingAndGlyphs" >PEM</text>
<path transform="translate(916.9,441.1) scale(1.0)" d="M0 0 C-3.4 0 -5.6 -2.6 -5.6 -5.8 C-5.6 -9 -2.2 -11.5 -0.6 -14.4 C0.8 -12.6 2 -11 2.6 -9.4 C3.4 -9.8 4.2 -10.6 4.8 -11.2 C5.6 -9.5 6 -7.6 6 -5.8 C6 -2.6 3.4 0 0 0 Z" fill="#f86e0c"/>
<path d="M937.7 432.5 L937.7 393.9 L1057.3 393.9" fill="none" stroke="#c81e1e" stroke-width="1.6"/>
<polygon points="1064.8,393.9 1056.3,389.9 1056.3,397.9" fill="#c81e1e"/>
<path d="M1064.8 419.5 L983.7 419.5 L983.7 425.0" fill="none" stroke="#c81e1e" stroke-width="1.6" stroke-dasharray="5.5 3.5"/>
<polygon points="983.7,432.3 979.95,424.0 987.45,424.0" fill="#c81e1e"/>
<rect x="1064.8" y="380" width="84.20" height="61.00" rx="0" fill="none" stroke="#c8201e" stroke-width="1.7" stroke-dasharray="5.5 3.5"/>
<text x="1106.3" y="417.8" font-size="22.5" fill="#c41a1a" text-anchor="middle" font-weight="normal" textLength="70" lengthAdjust="spacingAndGlyphs" >CE Loss</text>
<rect x="1214" y="371" width="54.40" height="35.30" rx="1.5" fill="none" stroke="#111" stroke-width="1.9" stroke-dasharray="5 3"/>
<rect x="1214" y="415.5" width="54.40" height="35.30" rx="1.5" fill="none" stroke="#111" stroke-width="1.9" stroke-dasharray="5 3"/>
<text x="1240.8" y="396.4" font-size="21" fill="#000" text-anchor="middle" font-weight="normal" textLength="34" lengthAdjust="spacingAndGlyphs" >Fake</text>
<text x="1240.5" y="440.3" font-size="21" fill="#000" text-anchor="middle" font-weight="normal" textLength="32" lengthAdjust="spacingAndGlyphs" >Real</text>
<path d="M1213 388.8 L1157.5 388.8" fill="none" stroke="#111" stroke-width="2" stroke-dasharray="2 1.6"/>
<polygon points="1149.5,388.8 1158.5,384.05 1158.5,393.55" fill="#111"/>
<path d="M1213 433.3 L1157.5 433.3" fill="none" stroke="#111" stroke-width="2" stroke-dasharray="2 1.6"/>
<polygon points="1149.5,433.3 1158.5,428.55 1158.5,438.05" fill="#111"/>
<path d="M964.4 486.1 L964.4 507 L1185.5 507" fill="none" stroke="#111" stroke-width="1.75"/>
<polygon points="1193,507 1184.5,503.2 1184.5,510.8" fill="#111"/>
<g transform="matrix(0.9784,0.0865,0,0.9909,1206.8,464.1)"><g clip-path="url(#lc)"><rect x="0" y="0" width="55.5" height="66" fill="url(#rbg)"/><ellipse cx="30" cy="42" rx="22" ry="20" fill="#d02008" opacity="0.45" filter="url(#blur2)"/><ellipse cx="44" cy="22" rx="9" ry="7" fill="#d02008" opacity="0.9" filter="url(#blur2)"/><path d="M37 9 Q45 6 52 13" stroke="#ff7a20" stroke-width="1.6" fill="none" opacity="0.8" filter="url(#blur05)"/><path d="M38 13 Q46 14.5 53 22" stroke="#ff7a20" stroke-width="6.5" fill="none" stroke-linecap="round" filter="url(#blur1)"/><path d="M39 12.5 Q46 14 52 20.5" stroke="#fff8e6" stroke-width="3.8" fill="none" stroke-linecap="round" filter="url(#blur05)"/><path d="M52 10 Q55 13 54 19" stroke="#ff7a20" stroke-width="2" fill="none" filter="url(#blur05)"/></g><rect x="0" y="0" width="55.5" height="66" fill="none" stroke="#1a0000" stroke-width="0.9"/></g>
<g transform="matrix(0.9730,0.0865,0,0.9985,1201.1,467.9)"><g clip-path="url(#lc)"><rect x="0" y="0" width="55.5" height="66" fill="url(#rbg)"/><ellipse cx="30" cy="42" rx="22" ry="20" fill="#d02008" opacity="0.45" filter="url(#blur2)"/><ellipse cx="44" cy="22" rx="9" ry="7" fill="#d02008" opacity="0.9" filter="url(#blur2)"/><path d="M37 9 Q45 6 52 13" stroke="#ff7a20" stroke-width="1.6" fill="none" opacity="0.8" filter="url(#blur05)"/><path d="M38 13 Q46 14.5 53 22" stroke="#ff7a20" stroke-width="6.5" fill="none" stroke-linecap="round" filter="url(#blur1)"/><path d="M39 12.5 Q46 14 52 20.5" stroke="#fff8e6" stroke-width="3.8" fill="none" stroke-linecap="round" filter="url(#blur05)"/><path d="M52 10 Q55 13 54 19" stroke="#ff7a20" stroke-width="2" fill="none" filter="url(#blur05)"/></g><rect x="0" y="0" width="55.5" height="66" fill="none" stroke="#1a0000" stroke-width="0.9"/></g>
<g transform="matrix(0.9874,0.0865,0,0.9985,1193.1,472.7)"><g clip-path="url(#lc)"><rect x="0" y="0" width="55.5" height="66" fill="url(#rbg)"/><ellipse cx="30" cy="42" rx="22" ry="20" fill="#d02008" opacity="0.45" filter="url(#blur2)"/><ellipse cx="44" cy="22" rx="9" ry="7" fill="#d02008" opacity="0.9" filter="url(#blur2)"/><path d="M37 9 Q45 6 52 13" stroke="#ff7a20" stroke-width="1.6" fill="none" opacity="0.8" filter="url(#blur05)"/><path d="M38 13 Q46 14.5 53 22" stroke="#ff7a20" stroke-width="6.5" fill="none" stroke-linecap="round" filter="url(#blur1)"/><path d="M39 12.5 Q46 14 52 20.5" stroke="#fff8e6" stroke-width="3.8" fill="none" stroke-linecap="round" filter="url(#blur05)"/><path d="M52 10 Q55 13 54 19" stroke="#ff7a20" stroke-width="2" fill="none" filter="url(#blur05)"/><circle cx="42.3" cy="24.7" r="2" fill="#ff7a20" filter="url(#blur05)"/><path d="M20.3 36.4 Q23.5 50 26.2 63.6" stroke="#ff7a20" stroke-width="2.2" fill="none" filter="url(#blur05)"/><path d="M22 44 Q23.5 51 24.8 57" stroke="#fff2c8" stroke-width="1.3" fill="none"/><path d="M21.7 29.3 L28.4 33.5" stroke="#ff7a20" stroke-width="2.6" fill="none" stroke-linecap="round" filter="url(#blur05)"/><path d="M22.5 30 L27.5 33" stroke="#fff0c0" stroke-width="1.2" fill="none" stroke-linecap="round"/><path d="M24.5 8.2 L28 9" stroke="#ffe0a0" stroke-width="1.8" fill="none" stroke-linecap="round"/><path d="M12.5 12 L15 12.5" stroke="#fff0d0" stroke-width="1.8" fill="none" stroke-linecap="round"/><circle cx="11.5" cy="25.4" r="1.2" fill="#ff7a20" opacity="0.8"/><circle cx="2.6" cy="7" r="1.3" fill="#ff7a20" opacity="0.7"/><circle cx="33" cy="8" r="1" fill="#ff7a20" opacity="0.6"/><circle cx="8" cy="38" r="1" fill="#ff7a20" opacity="0.5"/><circle cx="40" cy="55" r="1" fill="#ff7a20" opacity="0.5"/></g><rect x="0" y="0" width="55.5" height="66" fill="none" stroke="#1a0000" stroke-width="0.9"/></g>
<path d="M2 243H267.3M2 542H267.3" fill="none" stroke="#111" stroke-width="2.1" stroke-dasharray="7.4 5.9" stroke-dashoffset="-1.3"/>
<path d="M2 542V243M267.3 542V243" fill="none" stroke="#111" stroke-width="2.1" stroke-dasharray="8.3 6.7" stroke-dashoffset="0"/>
<path d="M22.6 274.4 L40.8 274.4" fill="none" stroke="#111" stroke-width="1.75"/>
<polygon points="47.3,274.4 39.8,270.15 39.8,278.65" fill="#111"/>
<text x="65.2" y="279" font-size="16.5" fill="#000" text-anchor="start" font-weight="normal" textLength="75" lengthAdjust="spacingAndGlyphs" >Forward Path</text>
<path d="M22.6 313.4 L40.8 313.4" fill="none" stroke="#c00000" stroke-width="1.6" stroke-dasharray="10 4"/>
<polygon points="47.3,313.4 39.8,309.15 39.8,317.65" fill="#c00000"/>
<text x="65.2" y="318.1" font-size="16.5" fill="#000" text-anchor="start" font-weight="normal" textLength="86" lengthAdjust="spacingAndGlyphs" >Backward Path</text>
<path d="M167.1 313.1 L187.0 313.1" fill="none" stroke="#c00000" stroke-width="1.6"/>
<polygon points="193.5,313.1 186.0,308.85 186.0,317.35" fill="#c00000"/>
<text x="204" y="317.5" font-size="16" fill="#000" text-anchor="start" font-weight="normal" textLength="54.5" lengthAdjust="spacingAndGlyphs" >Loss Path</text>
<ellipse cx="34.4" cy="354.2" rx="9.6" ry="9.6" fill="#fff" stroke="#111" stroke-width="1.6"/>
<path d="M24.799999999999997 354.2H44.0M34.4 344.59999999999997V363.8" stroke="#111" stroke-width="1.6"/>
<text x="65.2" y="357.5" font-size="16.5" fill="#000" text-anchor="start" font-weight="normal" textLength="127" lengthAdjust="spacingAndGlyphs" >Element-wise addition</text>
<ellipse cx="33.9" cy="408.8" rx="9.1" ry="10.6" fill="#fff" stroke="#111" stroke-width="1.6"/>
<path d="M24.799999999999997 408.8H43.0" stroke="#111" stroke-width="2.6"/>
<text x="65.2" y="411.2" font-size="16.5" fill="#000" text-anchor="start" font-weight="normal" textLength="143" lengthAdjust="spacingAndGlyphs" >Element-wise subtraction</text>
<rect x="10.6" y="438.5" width="50.00" height="31.50" rx="5" fill="#e2f0d9" stroke="#a9d18e" stroke-width="1.8"/>
<text x="35.6" y="459.4" font-size="14" fill="#385723" text-anchor="middle" font-weight="normal" textLength="24" lengthAdjust="spacingAndGlyphs" >SCL</text>
<text x="65.7" y="457.3" font-size="16.5" fill="#000" text-anchor="start" font-weight="normal" textLength="126" lengthAdjust="spacingAndGlyphs" >Smooth Scaling Layer</text>
<rect x="10.6" y="489.7" width="50.00" height="29.10" rx="5" fill="#d9d9d9" stroke="#595959" stroke-width="1.8"/>
<text x="35.6" y="509.5" font-size="15" fill="#000" text-anchor="middle" font-weight="normal" textLength="28" lengthAdjust="spacingAndGlyphs" >PEM</text>
<text x="66" y="507.9" font-size="16.5" fill="#000" text-anchor="start" font-weight="normal" textLength="187" lengthAdjust="spacingAndGlyphs" >Perception Enhancement Module</text>
</svg></body></html>
